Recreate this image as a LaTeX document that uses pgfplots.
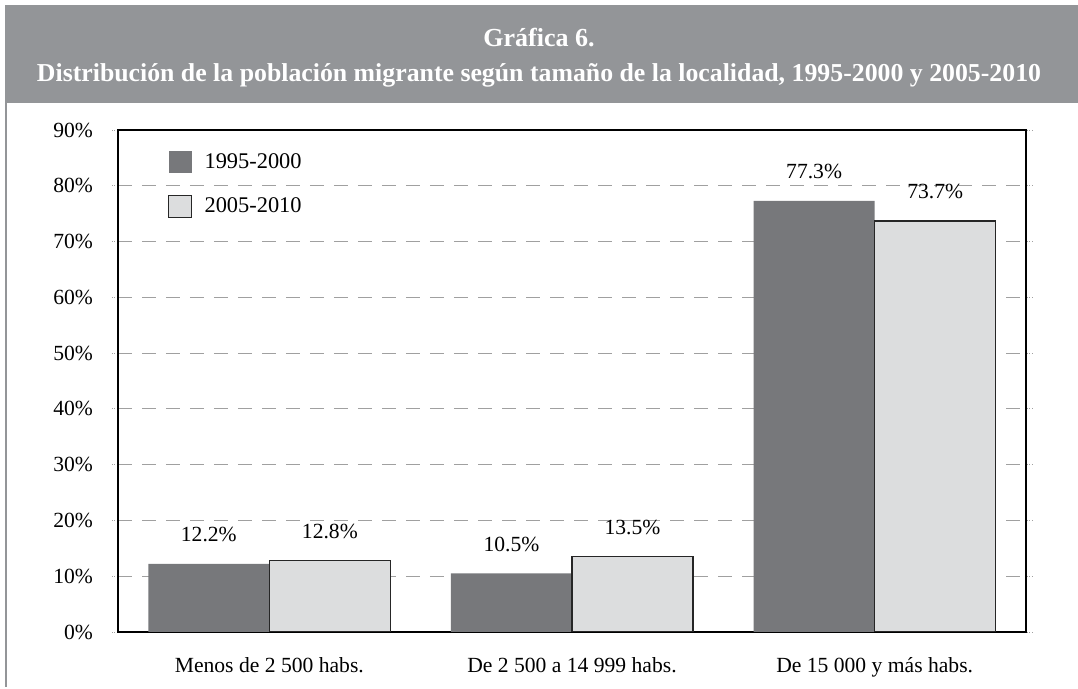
\documentclass[border=0pt]{standalone}
\usepackage{pgfplots}
\pgfplotsset{compat=1.18}
\usepackage{fontspec}
\setmainfont{Liberation Serif}
\definecolor{band}{RGB}{147,149,152}
\definecolor{darkbar}{RGB}{119,120,123}
\definecolor{lightbar}{RGB}{220,221,222}
\definecolor{gridgray}{RGB}{160,160,160}

\begin{document}
\begin{tikzpicture}
  \begin{axis}[
      scale only axis, width=454pt, height=251pt,
      ybar, bar width=0.4, ybar=0pt,
      xmin=-0.5, xmax=2.5, ymin=0, ymax=90,
      xtick={0,1,2},
      xticklabels={Menos de 2 500 habs., De 2 500 a 14 999 habs., De 15 000 y más habs.},
      major x tick style={draw=none},
      extra x ticks={-0.5,0.5,1.5,2.5}, extra x tick labels={},
      extra x tick style={grid=none, tick style={draw=gridgray, densely dotted, thin}},
      ytick={0,10,...,90},
      yticklabel={\pgfmathprintnumber{\tick}\%},
      ymajorgrids=true,
      grid style={gridgray, dash pattern=on 7pt off 5pt, line width=0.6pt},
      tick align=outside, major tick length=3pt,
      ytick style={draw=gridgray, densely dotted, thin},
      axis line style={black, line width=1pt},
      tick label style={font=\fontsize{10.8}{12}\selectfont},
      xticklabel style={yshift=-6pt},
      yticklabel style={xshift=-6pt},
      /pgf/number format/assume math mode=true,
      nodes near coords={\pgfmathprintnumber[fixed,fixed zerofill,precision=1]{\pgfplotspointmeta}\%},
      every node near coord/.append style={font=\fontsize{10.8}{12}\selectfont, black, yshift=7.5pt},
      legend style={at={(0.048,0.97)}, anchor=north west, draw=none, fill=none,
        font=\fontsize{11.2}{12}\selectfont, row sep=9pt},
      legend cell align=left,
      legend image code/.code={\path[#1] (0pt,-5.5pt) rectangle (11.5pt,5.5pt); \path[draw=none,fill=none] (0pt,0pt) -- (16pt,0pt);},
    ]
    \addplot[fill=darkbar, draw=none] coordinates {(0,12.2) (1,10.5) (2,77.3)};
    \addplot[fill=lightbar, draw=black!85, line width=0.6pt] coordinates {(0,12.8) (1,13.5) (2,73.7)};
    \legend{1995-2000, 2005-2010}
  \end{axis}
  % title band and frame (axis origin sits at 59pt, 27.5pt of the page)
  \fill[band] (-56.5pt,264.5pt) rectangle (480pt,313.5pt);
  \draw[band, line width=1.2pt] (-56pt,264.5pt) -- (-56pt,-27.5pt);
  \node[white, font=\bfseries\fontsize{13}{15}\selectfont] at (210.5pt,297pt) {Gráfica 6.};
  \node[white, font=\bfseries\fontsize{12.9}{15}\selectfont] at (210.5pt,278.5pt) {Distribución de la población migrante según tamaño de la localidad, 1995-2000 y 2005-2010};
  \useasboundingbox (-59pt,-27.5pt) rectangle (480pt,316pt);
\end{tikzpicture}
\end{document}
